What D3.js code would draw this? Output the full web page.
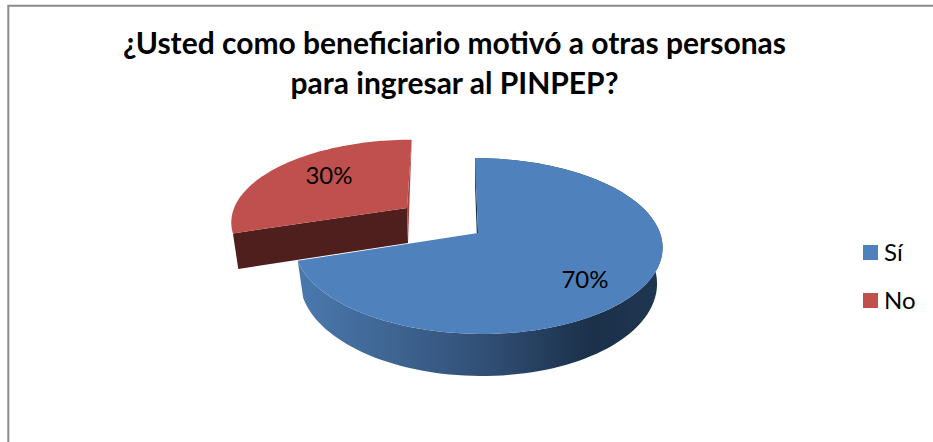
<!DOCTYPE html>
<html>
<head>
<meta charset="utf-8">
<script src="https://cdnjs.cloudflare.com/ajax/libs/d3/7.8.5/d3.min.js"></script>
<style>
  html, body { margin: 0; padding: 0; background: #fff; }
  svg { display: block; }
  text { font-family: Lato, "Open Sans", sans-serif; fill: #000; }
</style>
</head>
<body>
<div id="plot"></div>
<script>
var titleLines = ["¿Usted como beneficiario motivó a otras personas", "para ingresar al PINPEP?"];
var categories = ["Sí", "No"];
var values = [70, 30];
var labels = ["70%", "30%"];
var colors = ["#4f81bd", "#c0504d"];

var w = 933;
var h = 442;

var svg = d3.select("#plot").append("svg")
      .attr("width", w)
      .attr("height", h);

var defs = svg.append("defs");
var sideGrad = defs.append("linearGradient")
      .attr("id", "blueSide")
      .attr("gradientUnits", "userSpaceOnUse")
      .attr("x1", 300).attr("x2", 663).attr("y1", 0).attr("y2", 0);
[[0, "#4a78ae"], [0.3, "#3c618d"], [0.55, "#2e4b70"], [0.8, "#1b3049"], [1, "#1f3652"]].forEach(function(s){
  sideGrad.append("stop").attr("offset", s[0]).attr("stop-color", s[1]);
});

// chart frame, open on the right and at the bottom like the cropped screenshot
svg.append("path")
  .attr("d", "M8.3,442V5.8H" + w)
  .attr("fill", "none")
  .attr("stroke", "#8a8a8a")
  .attr("stroke-width", 2);

svg.selectAll(".title")
  .data(titleLines)
  .enter()
    .append("text")
    .classed("title", true)
    .attr("x", 454.5)
    .attr("y", function(d, i){ return 53.5 + i * 40; })
    .attr("text-anchor", "middle")
    .attr("font-size", 30)
    .attr("font-weight", "bold")
    .text(function(d){ return d; });

var slices = d3.pie().sort(null)(values);

// perspective view of the tilted disc: angle is clockwise from the far edge
function project(angle, o){
  var u = Math.sin(angle);
  var v = Math.cos(angle);
  var persp = 1 + 0.148 * v;
  var x = o.scale * 182 * u / persp;
  var y = -o.scale * 86 * v / persp;
  return [
    o.cx + (x + o.shear * y) * (o.sx || 1),
    o.cy + y * (o.sy || 1) + (o.dy || 0)
  ];
}

function rim(slice, o, n){
  return d3.range(n + 1).map(function(i){
    return project(slice.startAngle + (slice.endAngle - slice.startAngle) * i / n, o);
  });
}

var line = d3.line();

var blueTop = {cx: 478, cy: 233, scale: 1, shear: 0.04};
var blueLow = {cx: 478, cy: 233, scale: 1, shear: 0.04, sx: 0.97, sy: 1.07, dy: 35};
var redTop = {cx: 407, cy: 208, scale: 0.95, shear: -0.066, sy: 0.96};
var redLow = {cx: 408, cy: 243, scale: 0.95, shear: -0.066, sx: 0.975, sy: 0.98};

var pieG = svg.append("g").classed("pie", true);

// exploded red slice
var red = slices[1];
var redRim = rim(red, redTop, 60);
pieG.append("path")
  .attr("d", line([project(red.startAngle, redTop), [redTop.cx, redTop.cy], [redLow.cx, redLow.cy], project(red.startAngle, redLow)]) + "Z")
  .attr("fill", "#4f1f1e");
pieG.append("path")
  .attr("d", line([project(red.endAngle, redTop), [redTop.cx, redTop.cy], [redLow.cx, redLow.cy]]) + "Z")
  .attr("fill", "#a94543");
pieG.append("path")
  .attr("d", line([[redTop.cx, redTop.cy]].concat(redRim)) + "Z")
  .attr("fill", colors[1]);

// blue slice: inner wall and outer side first, then the top face
var blue = slices[0];
var blueRim = rim(blue, blueTop, 120);
var blueLowRim = rim(blue, blueLow, 120);
pieG.append("path")
  .attr("d", line([project(blue.startAngle, blueTop), [blueTop.cx, blueTop.cy], [blueTop.cx, blueTop.cy + blueLow.dy], project(blue.startAngle, blueLow)]) + "Z")
  .attr("fill", "#1b3049");
pieG.append("path")
  .attr("d", line(blueRim.concat(blueLowRim.slice().reverse())) + "Z")
  .attr("fill", "url(#blueSide)");
pieG.append("path")
  .attr("d", line([[blueTop.cx, blueTop.cy]].concat(blueRim)) + "Z")
  .attr("fill", colors[0]);

svg.selectAll(".pct")
  .data(slices)
  .enter()
    .append("text")
    .classed("pct", true)
    .attr("x", function(d, i){ return i == 0 ? 585 : 329; })
    .attr("y", function(d, i){ return i == 0 ? 288 : 184; })
    .attr("text-anchor", "middle")
    .attr("font-size", 24)
    .text(function(d, i){ return labels[i]; });

var legend = svg.selectAll(".legend-item")
      .data(categories)
      .enter()
        .append("g")
        .classed("legend-item", true)
        .attr("transform", function(d, i){ return "translate(863," + (245 + i * 48) + ")"; });
legend.append("rect")
  .attr("width", 15)
  .attr("height", 15)
  .attr("fill", function(d, i){ return colors[i]; });
legend.append("text")
  .attr("x", 21)
  .attr("y", 16)
  .attr("font-size", 24)
  .text(function(d){ return d; });
</script>
</body>
</html>
